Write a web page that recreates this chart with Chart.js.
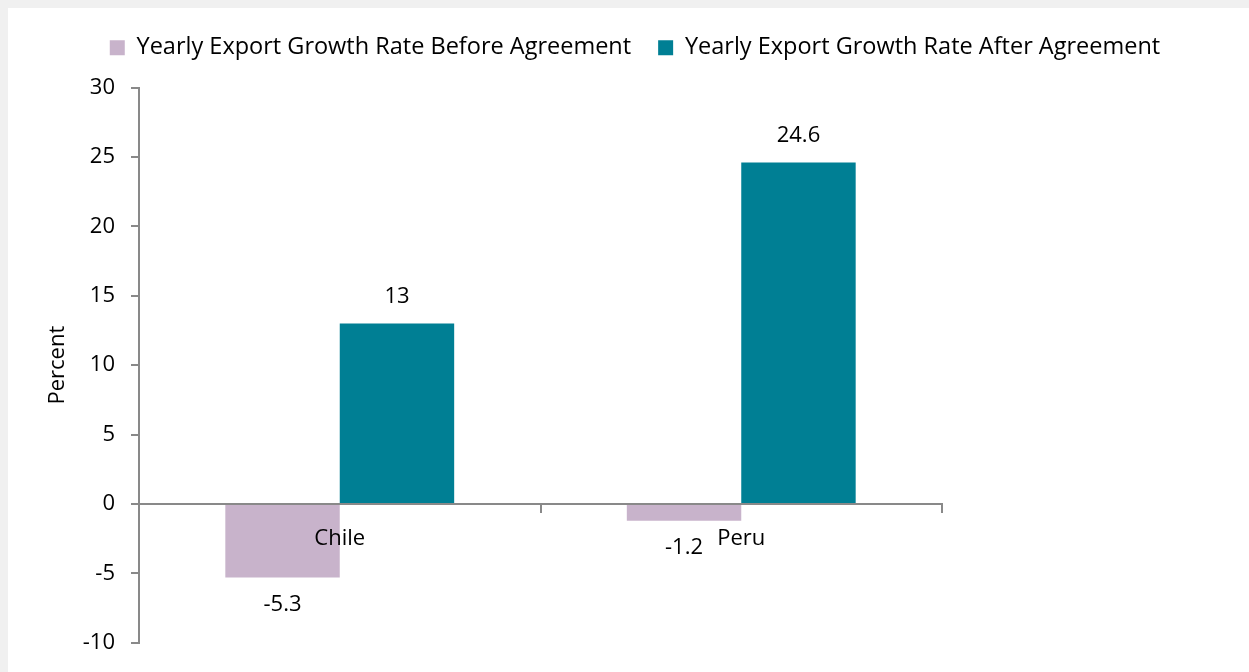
<!DOCTYPE html>
<html>
<head>
<meta charset="utf-8">
<script src="https://cdn.jsdelivr.net/npm/chart.js@4"></script>
<style>
  html, body { margin: 0; padding: 0; background: #f0f0f0; width: 1249px; height: 672px; overflow: hidden; }
  #frame { position: absolute; left: 8px; top: 8px; width: 1241px; height: 664px; background: #ffffff; }
</style>
</head>
<body>
<div id="frame"><canvas id="chart"></canvas></div>
<script>
const categories = ['Chile', 'Peru'];
const beforeAgreement = [-5.3, -1.2];
const afterAgreement = [13, 24.6];
const seriesNames = ['Yearly Export Growth Rate Before Agreement', 'Yearly Export Growth Rate After Agreement'];
const yTicks = [30, 25, 20, 15, 10, 5, 0, -5, -10];

const FONT = '"Open Sans"';
const AXIS_GREY = '#898989';

// Value labels above positive bars and below negative ones
const valueLabels = {
  id: 'valueLabels',
  afterDatasetsDraw(chart) {
    const ctx = chart.ctx;
    ctx.save();
    ctx.font = '22px ' + FONT;
    ctx.fillStyle = '#000';
    ctx.textAlign = 'center';
    ctx.textBaseline = 'middle';
    chart.data.datasets.forEach((ds, di) => {
      chart.getDatasetMeta(di).data.forEach((bar, i) => {
        const v = ds.data[i];
        const y = v >= 0 ? bar.y - 27 : bar.y + 27;
        ctx.fillText(String(v), bar.x, y);
      });
    });
    ctx.restore();
  }
};

// Extra room between the legend and the plot
const legendGap = {
  id: 'legendGap',
  beforeInit(chart) {
    const origFit = chart.legend.fit;
    chart.legend.fit = function () {
      origFit.call(this);
      this.height += 18;
    };
  }
};

new Chart(document.getElementById('chart'), {
  type: 'bar',
  data: {
    labels: categories,
    datasets: [
      { label: seriesNames[0], data: beforeAgreement, backgroundColor: '#c8b3cb', borderWidth: 0,
        barPercentage: 1, categoryPercentage: 0.57 },
      { label: seriesNames[1], data: afterAgreement, backgroundColor: '#007f94', borderWidth: 0,
        barPercentage: 1, categoryPercentage: 0.57 }
    ]
  },
  options: {
    responsive: true,
    maintainAspectRatio: false,
    animation: false,
    layout: { padding: { top: 1, left: 13, right: 0, bottom: 29 } },
    plugins: {
      legend: {
        position: 'top',
        labels: {
          boxWidth: 15, boxHeight: 15, padding: 27,
          color: '#000',
          font: { family: FONT, size: 23.5 }
        }
      },
      tooltip: { enabled: false }
    },
    scales: {
      x: {
        position: { y: 0 },
        offset: true,
        grid: { display: true, drawOnChartArea: false, drawTicks: true, tickLength: 8, color: AXIS_GREY, lineWidth: 2, offset: true },
        border: { display: true, color: AXIS_GREY, width: 2 },
        ticks: { color: '#000', font: { family: FONT, size: 22 }, padding: 14, maxRotation: 0, z: 1 }
      },
      y: {
        position: 'left',
        min: -10, max: 30,
        afterBuildTicks(scale) { scale.ticks = yTicks.map(v => ({ value: v })); },
        afterFit(scale) { scale.width = 118; },
        grid: { display: true, drawOnChartArea: false, drawTicks: true, tickLength: 8, color: AXIS_GREY, lineWidth: 2 },
        border: { display: true, color: AXIS_GREY, width: 2 },
        ticks: { color: '#000', font: { family: FONT, size: 22 }, padding: 16 },
        title: { display: true, text: 'Percent', color: '#000', font: { family: FONT, size: 22 }, padding: { top: 24, bottom: 0 } }
      },
      yRight: {
        position: 'right',
        display: true,
        min: 0, max: 1,
        afterFit(scale) { scale.width = 307; },
        grid: { display: false },
        border: { display: false },
        ticks: { display: false }
      }
    }
  },
  plugins: [valueLabels, legendGap]
});
</script>
</body>
</html>
